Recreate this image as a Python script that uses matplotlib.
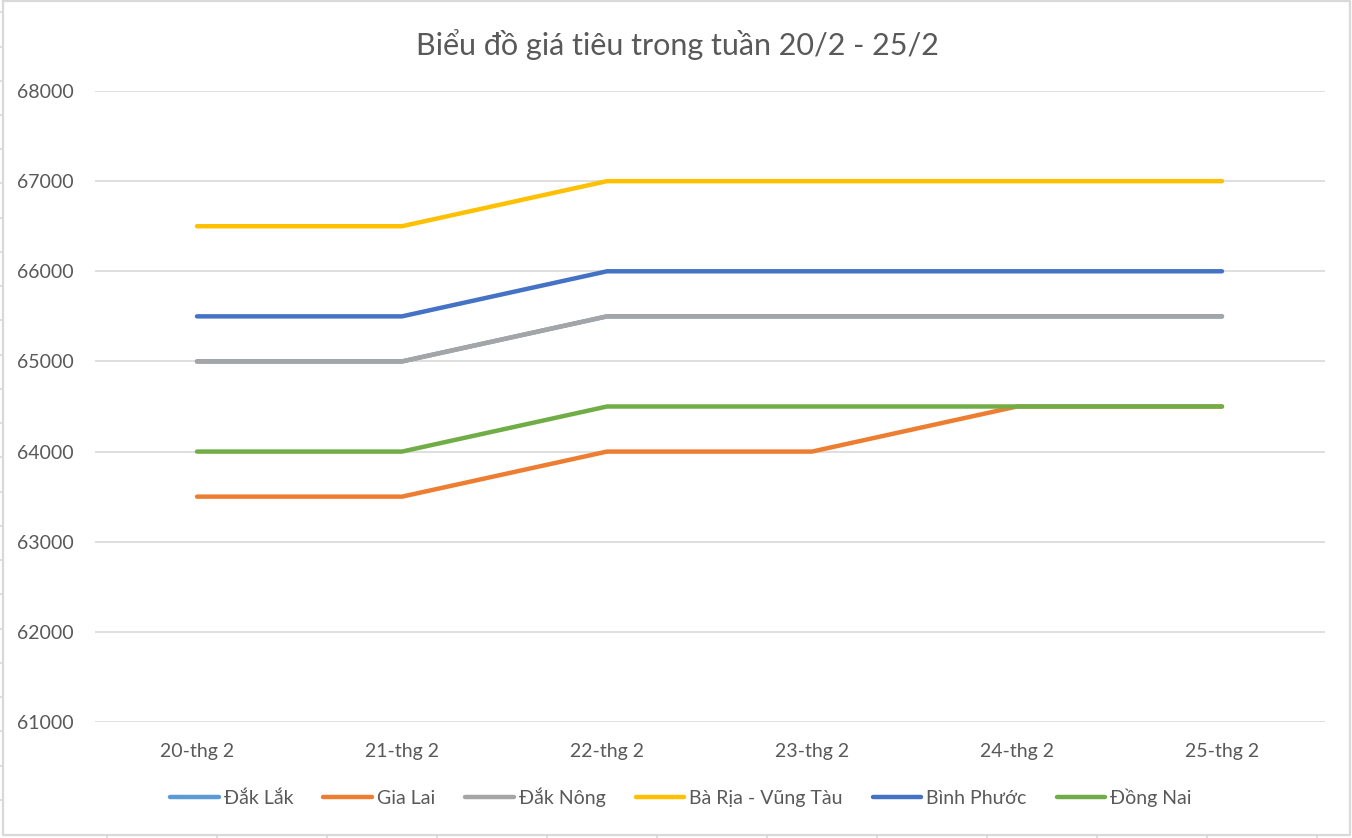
import matplotlib
matplotlib.use("Agg")
import matplotlib.pyplot as plt
from matplotlib.lines import Line2D

plt.rcParams['font.family'] = ['Lato', 'DejaVu Sans']

dates = ["20-thg 2", "21-thg 2", "22-thg 2", "23-thg 2", "24-thg 2", "25-thg 2"]
series_names = ["Đắk Lắk", "Gia Lai", "Đắk Nông", "Bà Rịa - Vũng Tàu", "Bình Phước", "Đồng Nai"]
dak_lak = [65000, 65000, 65500, 65500, 65500, 65500]
gia_lai = [63500, 63500, 64000, 64000, 64500, 64500]
dak_nong = [65000, 65000, 65500, 65500, 65500, 65500]
ba_ria = [66500, 66500, 67000, 67000, 67000, 67000]
binh_phuoc = [65500, 65500, 66000, 66000, 66000, 66000]
dong_nai = [64000, 64000, 64500, 64500, 64500, 64500]
yticks = [61000, 62000, 63000, 64000, 65000, 66000, 67000, 68000]
colors = ["#5B9BD5", "#ED7D31", "#A5A5A5", "#FFC000", "#4472C4", "#70AD47"]
title = "Biểu đồ giá tiêu trong tuần 20/2 - 25/2"

W, H = 1352, 838
fig = plt.figure(figsize=(W / 100, H / 100), dpi=100)

def fx(x):
    return x / W

def fy(y):
    return 1 - y / H

grid_c = "#D9D9D9"
# spreadsheet cell lines around chart
y = 12.3
while y < 830:
    fig.add_artist(Line2D([0, fx(3)], [fy(y), fy(y)], color=grid_c, lw=1.2))
    y += 34.24
for x in range(107, 1350, 110):
    fig.add_artist(Line2D([fx(x), fx(x)], [fy(835), 0], color=grid_c, lw=1.2))
fig.add_artist(Line2D([fx(x) for x in (3, 1350, 1350, 3, 3)],
                      [fy(y) for y in (1.5, 1.5, 835, 835, 1.5)],
                      color=grid_c, lw=1.6))

ax = fig.add_axes([fx(94.5), fy(722), fx(1324.5) - fx(94.5), fy(91) - fy(722)])
xs = list(range(len(dates)))
data = [dak_lak, gia_lai, dak_nong, ba_ria, binh_phuoc, dong_nai]
handles = []
for name, vals, c in zip(series_names, data, colors):
    h, = ax.plot(xs, vals, color=c, lw=3.2, solid_capstyle='round', label=name)
    handles.append(h)

ax.set_xlim(-0.5, len(dates) - 0.5)
ax.set_ylim(61000, 68000)
ax.set_yticks(yticks)
ax.set_yticklabels([str(v) for v in yticks])
ax.set_xticks(xs)
ax.set_xticklabels(dates)
ax.grid(axis='y', color=grid_c, lw=1.2)
ax.set_axisbelow(True)
for s in ax.spines.values():
    s.set_visible(False)
ax.tick_params(axis='both', length=0, labelsize=14, labelcolor="#595959")
ax.tick_params(axis='y', pad=15)
ax.tick_params(axis='x', pad=15)

fig.text(fx(677), fy(45), title, ha='center', va='center', fontsize=22, color="#595959")

leg = fig.legend(handles=handles, labels=series_names, loc='center',
                 bbox_to_anchor=(fx(681), fy(797)), ncol=6, frameon=False,
                 fontsize=14, handlelength=2.5, handletextpad=0.25, columnspacing=1.55,
                 labelcolor="#595959")

fig.savefig("out.png", dpi=100)
